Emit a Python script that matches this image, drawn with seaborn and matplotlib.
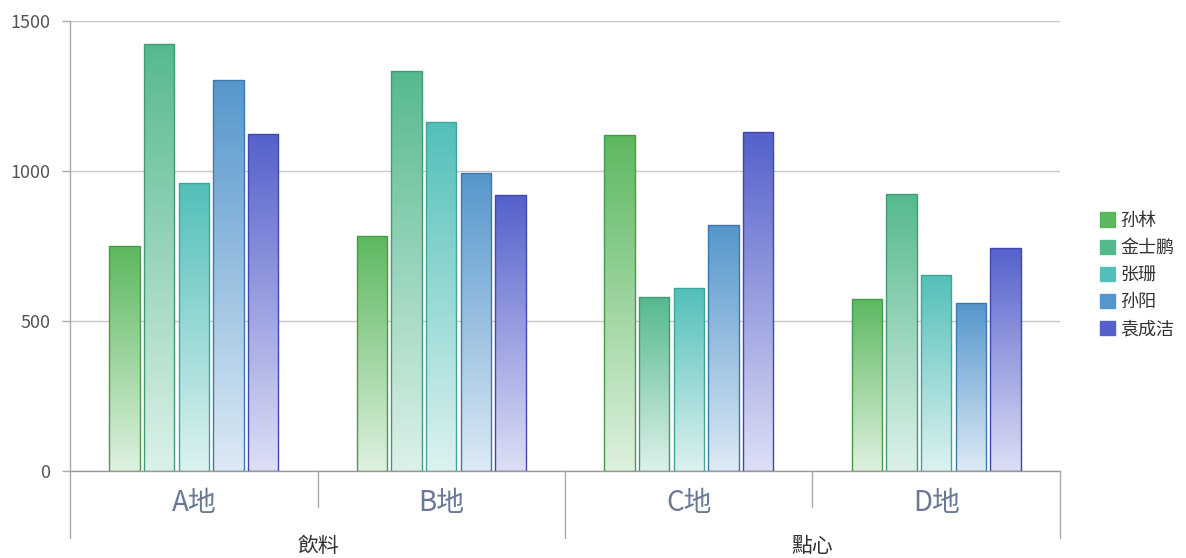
import numpy as np
import pandas as pd
import matplotlib
matplotlib.use('Agg')
import matplotlib.pyplot as plt
import matplotlib.colors as mcolors
from matplotlib.patches import Patch
from matplotlib.lines import Line2D
import seaborn as sns

# datos
regions = ['A地', 'B地', 'C地', 'D地']
groups = ['飲料', '點心']
people = ['孙林', '金士鹏', '张珊', '孙阳', '袁成洁']
sun_lin = [750, 785, 1120, 575]
jin_shipeng = [1425, 1335, 580, 925]
zhang_shan = [960, 1165, 610, 655]
sun_yang = [1305, 995, 820, 560]
yuan_chengjie = [1125, 920, 1130, 745]

colors = ['#5cb85f', '#55b98e', '#52bfb8', '#5596cc', '#5560cc']
edges = ['#47994b', '#43987a', '#3ea59e', '#3f78ad', '#4047ad']

series = [sun_lin, jin_shipeng, zhang_shan, sun_yang, yuan_chengjie]
rows = []
for p, vals in zip(people, series):
    for r, v in zip(regions, vals):
        rows.append({'region': r, 'person': p, 'sales': v})
df = pd.DataFrame(rows)

sns.set_style('white')
plt.rcParams['font.family'] = ['Noto Sans CJK SC', 'DejaVu Sans']

fig = plt.figure(figsize=(11.86, 5.58), dpi=100)
ax = fig.add_axes([70 / 1186, 1 - 471 / 558, 990 / 1186, 450 / 558])

sns.barplot(data=df, x='region', y='sales', hue='person', palette=colors,
            width=0.7, gap=0.12, ax=ax, legend=False, errorbar=None,
            linewidth=1)

ax.set_xlim(-0.5, 3.5)
ax.set_ylim(0, 1500)

# relleno degradado en cada barra
for cont, c, ec in zip(ax.containers, colors, edges):
    top = np.array(mcolors.to_rgb(c))
    bot = top * 0.2 + np.ones(3) * 0.8
    grad = np.linspace(0, 1, 256)[:, None]
    img = (top[None, None, :] * (1 - grad[:, :, None]) + bot[None, None, :] * grad[:, :, None])
    for bar in cont:
        x, w, h = bar.get_x(), bar.get_width(), bar.get_height()
        bar.set_facecolor('none')
        bar.set_edgecolor(ec)
        bar.set_zorder(3)
        im = ax.imshow(img, extent=[x, x + w, 0, h], aspect='auto', zorder=2,
                       origin='upper', interpolation='bilinear')
        im.set_clip_path(bar)

ax.set_xlim(-0.5, 3.5)
ax.set_ylim(0, 1500)

ax.set_yticks([0, 500, 1000, 1500])
ax.set_yticklabels(['0', '500', '1000', '1500'])
ax.tick_params(axis='y', length=6, color='#aaaaaa', width=1, pad=8,
               labelsize=13, labelcolor='#555555', left=True)
ax.yaxis.grid(True, color='#c8c8c8', linewidth=1)
ax.set_axisbelow(True)

ax.set_xticks(range(4))
ax.set_xticklabels(regions, fontsize=20, color='#6a7a94')
ax.tick_params(axis='x', length=0, pad=12)
ax.set_xlabel('')
ax.set_ylabel('')

for s in ['top', 'right', 'left']:
    ax.spines[s].set_visible(False)
ax.spines['bottom'].set_color('#999999')
ax.spines['bottom'].set_linewidth(1)

# lineas del eje por niveles
def fx(px):
    return px / 1186

def fy(py):
    return 1 - py / 558

for px, bottom in [(70, 538), (318, 507), (565, 538), (812, 507), (1060, 538)]:
    fig.add_artist(Line2D([fx(px), fx(px)], [fy(21 if px == 70 else 471), fy(bottom)],
                          color='#aaaaaa', linewidth=1))

for gx, g in zip([318, 812], groups):
    fig.text(fx(gx), fy(546), g, ha='center', va='center', fontsize=15, color='#333333')

handles = [Patch(facecolor=c, edgecolor=c) for c in colors]
fig.legend(handles, people, loc='center left', bbox_to_anchor=(fx(1100), fy(275)),
           frameon=False, fontsize=13, handlelength=0.85, handleheight=0.85,
           handletextpad=0.3, labelspacing=0.5, labelcolor='#333333',
           borderpad=0, borderaxespad=0)

fig.savefig('out.png', dpi=100)
